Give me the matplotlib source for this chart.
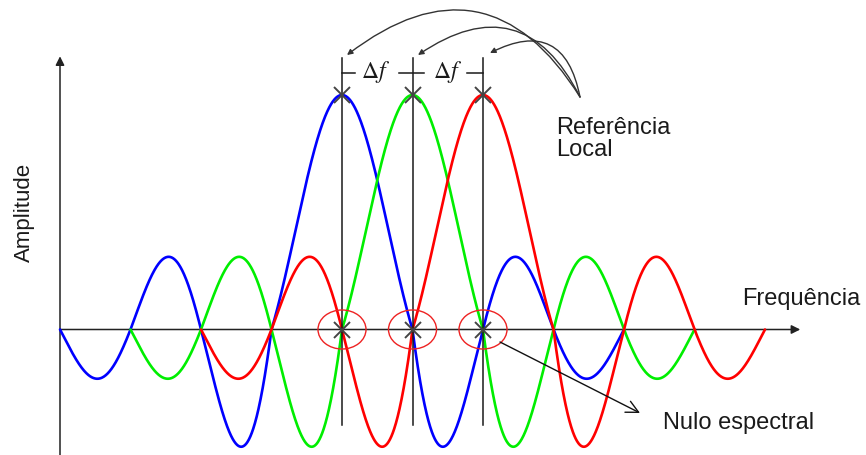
import numpy as np
import matplotlib
matplotlib.use("Agg")
import matplotlib.pyplot as plt
from matplotlib.patches import Ellipse, FancyArrowPatch

# ---- data (subcarrier spacing units / normalised amplitude) ----
centers = [4, 5, 6]                      # subcarrier centre frequencies (multiples of Δf)
colors = ["#0000ff", "#00ee00", "#ff0000"]
main_lobe = 1.0
side_lobes = [0.50, 0.31, 0.21]          # magnitude of 1st, 2nd, 3rd side lobes
n_side = 3
x_axis_end = 10.5
y_axis_top = 1.165
labels = {"x": "Frequência", "y": "Amplitude", "ref": "Referência\nLocal", "null": "Nulo espectral"}
delta_label = r"$\Delta f$"

# ---- figure with pixel-matched data frame ----
W, H = 866, 455
fig = plt.figure(figsize=(W / 100, H / 100), dpi=100)
ax = fig.add_axes([0, 0, 1, 1])
x0px, sx = 60, 70.5
y0px, sy = 329.5, 234.5
ax.set_xlim(-x0px / sx, (W - x0px) / sx)
ax.set_ylim((y0px - H) / sy, y0px / sy)
ax.axis("off")

def px(xp, yp):
    return (xp - x0px) / sx, (y0px - yp) / sy

plt.rcParams["mathtext.fontset"] = "stix"
font = "Liberation Sans"
tcol = "#1a1a1a"

# ---- curves ----
amps = [main_lobe] + side_lobes
for c, col in zip(centers, colors):
    u = np.linspace(-n_side - 1, n_side + 1, 1601)
    base = np.sinc(u)
    y = np.zeros_like(u)
    lobe = np.where(np.abs(u) <= 1, 0, np.ceil(np.abs(u)) - 1).astype(int)
    for k in range(n_side + 1):
        m = lobe == k
        y[m] = base[m] / np.abs(base[m]).max() * amps[k]
    ax.plot(c + u, y, color=col, lw=1.9, solid_capstyle="round", zorder=3)

# ---- axes with arrows ----
ax.annotate("", xy=(x_axis_end, 0), xytext=(0, 0),
            arrowprops=dict(arrowstyle="-|>", lw=1.1, color="#222222",
                            mutation_scale=13, shrinkA=0, shrinkB=0), zorder=2)
ax.annotate("", xy=(0, y_axis_top), xytext=(0, ax.get_ylim()[0]),
            arrowprops=dict(arrowstyle="-|>", lw=1.1, color="#222222",
                            mutation_scale=13, shrinkA=0, shrinkB=0), zorder=2)

# ---- vertical reference lines, markers, ellipses ----
vtop = px(0, 58)[1]
vbot = px(0, 425)[1]
for c in centers:
    ax.plot([c, c], [vbot, vtop], color="#1a1a1a", lw=1.1, zorder=4)
    ax.plot([c, c], [main_lobe, 0], ls="none", marker="x", ms=11.5, mew=1.4,
            color="#444444", zorder=5)
    ax.add_patch(Ellipse((c, 0), 48 / sx, 39 / sy, fill=False, ec="#ee2222",
                         lw=1.0, zorder=4))

# ---- Δf brackets ----
yb = px(0, 73)[1]
seg = [(342, 355), (399, 424), (467, 483)]
for a, b in seg:
    ax.plot([px(a, 0)[0], px(b, 0)[0]], [yb, yb], color="#1a1a1a", lw=1.1, zorder=4)
for xc in (376, 448):
    ax.text(px(xc, 0)[0], px(0, 72)[1], delta_label, fontsize=17, ha="center",
            va="center", color=tcol, zorder=6)

# ---- curved arrows to local reference ----
start = px(580, 97)
for (xe, ye), rad in zip([(347, 55), (418, 55), (490, 53)], [0.55, 0.57, 0.66]):
    arr = FancyArrowPatch(start, px(xe, ye), connectionstyle=f"arc3,rad={rad}",
                          arrowstyle="-|>", mutation_scale=8, lw=1.0,
                          color="#333333", shrinkA=0, shrinkB=0, zorder=6)
    ax.add_patch(arr)

# ---- null arrow ----
ax.annotate("", xy=px(640, 413), xytext=px(500, 342),
            arrowprops=dict(arrowstyle="->", lw=1.0, color="#111111",
                            mutation_scale=22, shrinkA=0, shrinkB=0), zorder=6)

# ---- texts ----
ax.text(*px(742, 305), labels["x"], fontsize=17, family=font, color=tcol,
        ha="left", va="baseline")
ax.text(*px(24, 212), labels["y"], fontsize=16, family=font, color=tcol,
        ha="center", va="center", rotation=90)
ax.text(*px(556, 134), "Referência", fontsize=17, family=font, color=tcol,
        ha="left", va="baseline")
ax.text(*px(556, 156), "Local", fontsize=17, family=font, color=tcol,
        ha="left", va="baseline")
ax.text(*px(663, 429), labels["null"], fontsize=17, family=font, color=tcol,
        ha="left", va="baseline")

fig.savefig("out.png", dpi=100)
